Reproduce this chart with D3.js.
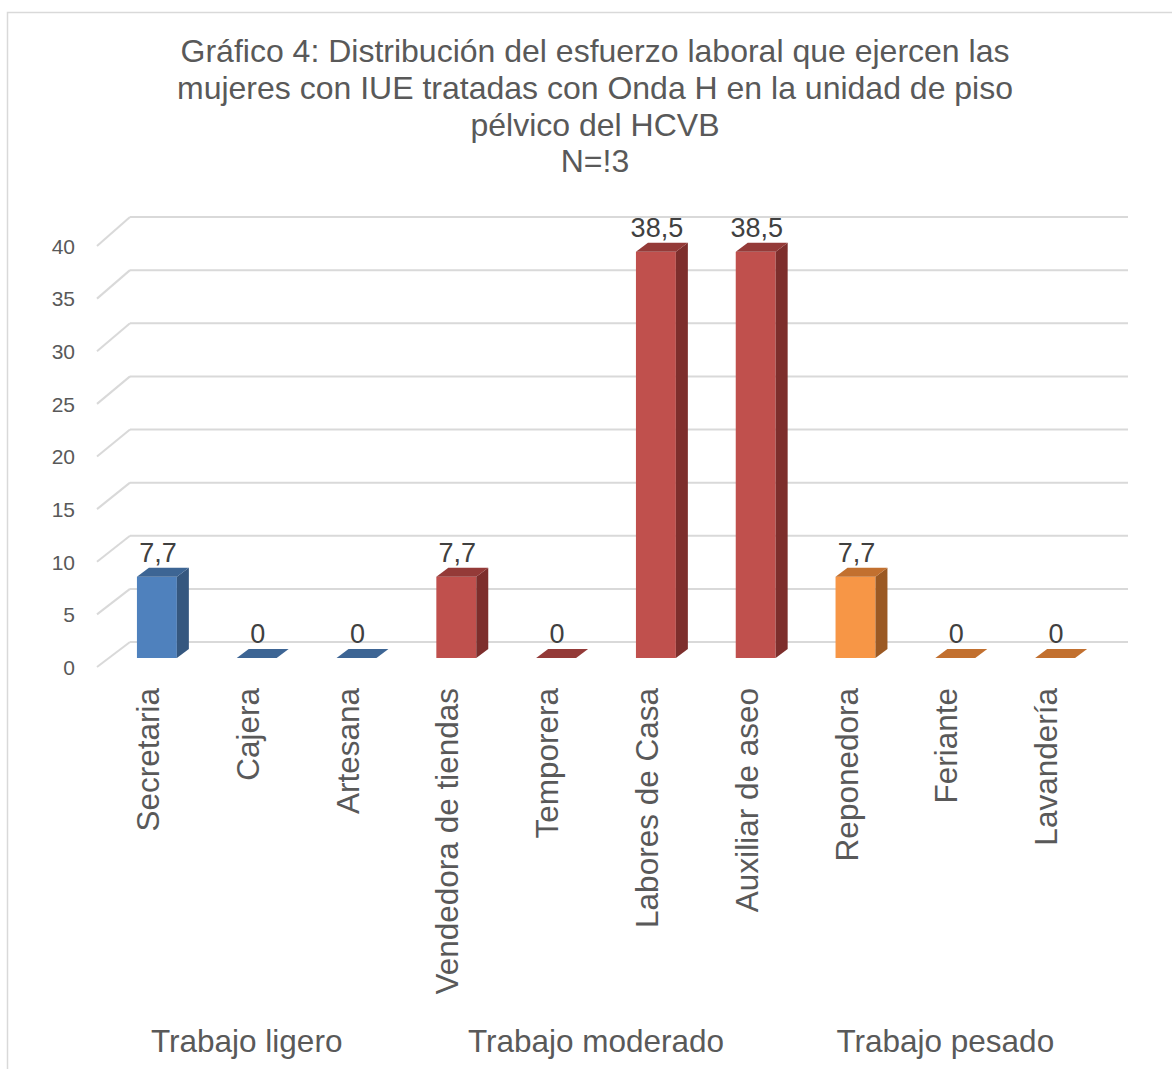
<!DOCTYPE html>
<html>
<head>
<meta charset="utf-8">
<script src="https://cdn.jsdelivr.net/npm/d3@7"></script>
<style>
  html, body { margin: 0; padding: 0; background: #fff; }
  text { font-family: "Liberation Sans", Arial, sans-serif; }
</style>
</head>
<body>
<svg id="chart" width="1172" height="1069"></svg>
<script>
const titleLines = [
  "Gráfico 4: Distribución del esfuerzo laboral que ejercen las",
  "mujeres con IUE tratadas con Onda H en la unidad de piso",
  "pélvico del HCVB",
  "N=!3"
];
const categories = ["Secretaria", "Cajera", "Artesana", "Vendedora de tiendas", "Temporera",
                    "Labores de Casa", "Auxiliar de aseo", "Reponedora", "Feriante", "Lavandería"];
const values = [7.7, 0, 0, 7.7, 0, 38.5, 38.5, 7.7, 0, 0];
const groupNames = ["Trabajo ligero", "Trabajo moderado", "Trabajo pesado"];
const groupOfCategory = [0, 0, 0, 1, 1, 1, 1, 2, 2, 2];
const yTicks = [0, 5, 10, 15, 20, 25, 30, 35, 40];

const groupFront = ["#4F81BD", "#C0504D", "#F79646"];
const groupSide  = ["#35577F", "#7D2E2C", "#9B5923"];
const groupTop   = ["#3D6594", "#943A38", "#C2702F"];

const svg = d3.select("#chart");
svg.append("rect").attr("width", 1172).attr("height", 1069).attr("fill", "#fff");
svg.append("rect").attr("x", 7.5).attr("y", 12.5).attr("width", 1300).attr("height", 1200)
  .attr("fill", "none").attr("stroke", "#D9D9D9").attr("stroke-width", 1.5);

// title
const title = svg.append("g");
const titleBase = [62, 99, 136, 172];
titleLines.forEach((t, i) => {
  title.append("text").attr("x", 595).attr("y", titleBase[i])
    .attr("text-anchor", "middle").attr("font-size", 32).attr("fill", "#595959").text(t);
});

// scales
const x = d3.scaleBand().domain(categories).range([107, 1105]).paddingInner(0.6).paddingOuter(0.3);
const yBar  = d3.scaleLinear().domain([0, 40]).range([658, 236]);
const yBack = d3.scaleLinear().domain([0, 40]).range([642, 217]);
const yFront = d3.scaleLinear().domain([0, 40]).range([667, 246]);
const wallDx = 33;
const floorX0 = 97, floorX1 = 1095;

// gridlines (back wall + left side diagonal)
const grid = svg.append("g").attr("stroke", "#D9D9D9").attr("stroke-width", 2).attr("fill", "none");
yTicks.forEach(v => {
  grid.append("line").attr("x1", floorX0 + wallDx).attr("x2", floorX1 + wallDx)
    .attr("y1", yBack(v)).attr("y2", yBack(v));
  grid.append("line").attr("x1", floorX0).attr("y1", yFront(v))
    .attr("x2", floorX0 + wallDx).attr("y2", yBack(v));
});

// y axis labels
const yAxis = d3.axisLeft(yFront).tickValues(yTicks).tickSize(0).tickPadding(0)
  .tickFormat(d => String(d));
const ya = svg.append("g").attr("transform", "translate(75,0)").call(yAxis);
ya.select(".domain").remove();
ya.selectAll("text").attr("font-size", 21).attr("fill", "#595959")
  .attr("font-family", "Liberation Sans, Arial, sans-serif").attr("dy", "0.35em");

// bars
const dX = 12, dY = 9;
const bw = x.bandwidth();
const bars = svg.append("g");
categories.forEach((c, i) => {
  const v = values[i], g = groupOfCategory[i];
  const x0 = x(c), x1 = x0 + bw;
  const yT = yBar(v), yB = yBar(0);
  const gg = bars.append("g");
  if (v > 0) {
    gg.append("rect").attr("x", x0).attr("y", yT).attr("width", bw).attr("height", yB - yT)
      .attr("fill", groupFront[g]);
    gg.append("polygon").attr("points", [[x1, yT], [x1 + dX, yT - dY], [x1 + dX, yB - dY], [x1, yB]].join(" "))
      .attr("fill", groupSide[g]);
  }
  gg.append("polygon").attr("points", [[x0, yT], [x0 + dX, yT - dY], [x1 + dX, yT - dY], [x1, yT]].join(" "))
    .attr("fill", groupTop[g]);
});

// data labels
const fmt = v => String(v).replace(".", ",");
svg.append("g").selectAll("text").data(categories).join("text")
  .attr("x", c => x(c) + bw / 2 + 1)
  .attr("y", (c, i) => yBar(values[i]) - 15)
  .attr("text-anchor", "middle").attr("font-size", 27).attr("fill", "#404040")
  .text((c, i) => fmt(values[i]));

// category labels (rotated)
svg.append("g").selectAll("text").data(categories).join("text")
  .attr("transform", c => `translate(${x(c) + bw / 2 + 2},688) rotate(-90)`)
  .attr("text-anchor", "end").attr("font-size", 31.5).attr("fill", "#595959")
  .text(c => c);

// group labels
groupNames.forEach((name, gi) => {
  const members = categories.filter((c, i) => groupOfCategory[i] === gi);
  const first = x(members[0]) - x.step() * x.paddingInner() / 2;
  const last = x(members[members.length - 1]) + bw + x.step() * x.paddingInner() / 2;
  svg.append("text").attr("x", (first + last) / 2 - 10).attr("y", 1052)
    .attr("text-anchor", "middle").attr("font-size", 31.5).attr("fill", "#595959").text(name);
});
</script>
</body>
</html>
